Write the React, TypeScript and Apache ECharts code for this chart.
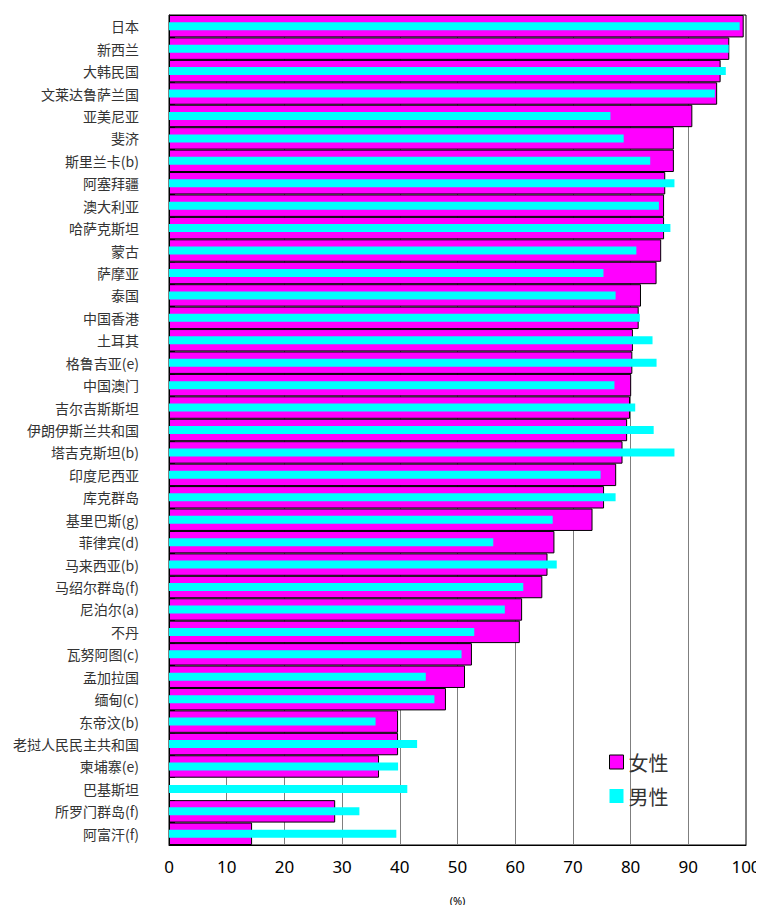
import React, { useEffect, useRef } from "react";
import * as echarts from "echarts";

const categories = [
  "日本", "新西兰", "大韩民国", "文莱达鲁萨兰国", "亚美尼亚", "斐济", "斯里兰卡(b)", "阿塞拜疆",
  "澳大利亚", "哈萨克斯坦", "蒙古", "萨摩亚", "泰国", "中国香港", "土耳其", "格鲁吉亚(e)",
  "中国澳门", "吉尔吉斯斯坦", "伊朗伊斯兰共和国", "塔吉克斯坦(b)", "印度尼西亚", "库克群岛",
  "基里巴斯(g)", "菲律宾(d)", "马来西亚(b)", "马绍尔群岛(f)", "尼泊尔(a)", "不丹", "瓦努阿图(c)",
  "孟加拉国", "缅甸(c)", "东帝汶(b)", "老挝人民民主共和国", "柬埔寨(e)", "巴基斯坦",
  "所罗门群岛(f)", "阿富汗(f)",
];

const female: (number | null)[] = [
  99.6, 97.1, 95.6, 95.0, 90.7, 87.5, 87.5, 86.0, 85.8, 85.8, 85.3, 84.5, 81.8, 81.4, 80.4, 80.3,
  80.1, 79.9, 79.4, 78.6, 77.5, 75.4, 73.4, 66.8, 65.6, 64.7, 61.2, 60.8, 52.5, 51.3, 48.0,
  39.7, 39.7, 36.4, null, 28.8, 14.4,
];

const male: number[] = [
  98.9, 97.0, 96.5, 94.6, 76.5, 78.8, 83.4, 87.6, 84.9, 86.9, 81.0, 75.3, 77.4, 81.6, 83.8, 84.5,
  77.2, 80.8, 84.0, 87.6, 74.8, 77.4, 66.5, 56.2, 67.2, 61.4, 58.2, 52.9, 50.7, 44.5, 46.0,
  35.8, 43.0, 39.7, 41.3, 33.0, 39.4,
];

const xTicks = { min: 0, max: 100, interval: 10 };
const legendNames = ["女性", "男性"];

export default function App() {
  const ref = useRef<HTMLDivElement>(null);
  useEffect(() => {
    if (!ref.current) return;
    const chart = echarts.init(ref.current, null, { renderer: "svg" });
    chart.setOption({
      animation: false,
      backgroundColor: "#fff",
      grid: {
        left: 169,
        right: 18,
        top: 15,
        bottom: 68,
        show: true,
        borderColor: "#000",
        borderWidth: 1,
        containLabel: false,
      },
      legend: {
        orient: "vertical",
        left: 604,
        top: 747,
        itemWidth: 14,
        itemHeight: 14,
        itemGap: 14,
        icon: "rect",
        textStyle: {
          fontSize: 20,
          color: "#333",
          fontFamily: "Noto Sans CJK SC",
        },
        data: [
          { name: legendNames[0], itemStyle: { color: "#FF00FF", borderColor: "#000", borderWidth: 1 } },
          { name: legendNames[1], itemStyle: { color: "#00FFFF", borderWidth: 0 } },
        ],
      },
      xAxis: {
        type: "value",
        min: xTicks.min,
        max: xTicks.max,
        interval: xTicks.interval,
        name: "(%)",
        nameLocation: "middle",
        nameGap: 50,
        nameTextStyle: { fontSize: 11, color: "#000", fontFamily: "Noto Sans" },
        axisLine: { show: true, lineStyle: { color: "#000" } },
        axisTick: { show: false },
        axisLabel: {
          fontSize: 17,
          color: "#000",
          margin: 13,
          fontFamily: "Noto Sans",
        },
        splitLine: { show: true, lineStyle: { color: "#7f7f7f", width: 1 } },
      },
      yAxis: [
        {
          type: "category",
          data: categories,
          inverse: true,
          axisLine: { show: true, lineStyle: { color: "#000" } },
          axisTick: { show: true, inside: true, length: 6, lineStyle: { color: "#000" } },
          axisLabel: {
            fontSize: 14,
            color: "#333",
            margin: 30,
            fontFamily: "Noto Sans CJK SC",
          },
          splitLine: { show: false },
        },
        {
          type: "category",
          data: categories,
          inverse: true,
          position: "left",
          show: false,
        },
      ],
      series: [
        {
          name: legendNames[0],
          type: "bar",
          yAxisIndex: 0,
          data: female,
          barWidth: "100%",
          itemStyle: { color: "#FF00FF", borderColor: "#000", borderWidth: 1 },
          z: 2,
        },
        {
          name: legendNames[1],
          type: "bar",
          yAxisIndex: 1,
          data: male,
          barWidth: 8,
          itemStyle: { color: "#00FFFF" },
          z: 3,
        },
      ],
    });
    return () => chart.dispose();
  }, []);
  return <div ref={ref} style={{ width: 764, height: 913, margin: -8 }} />;
}
